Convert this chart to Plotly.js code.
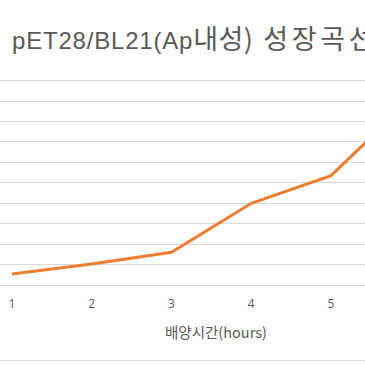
<!DOCTYPE html>
<html>
<head>
<meta charset="utf-8">
<script src="https://cdn.plot.ly/plotly-3.0.1.min.js"></script>
<style>html,body{margin:0;padding:0;background:#fff;}#chart{width:365px;height:365px;}</style>
</head>
<body>
<div id="chart"></div>
<script>
const hours = [1, 2, 3, 4, 5, 6];
const growth = [0.054, 0.103, 0.160, 0.400, 0.535, 0.910];
const titleLatin = 'pET28/BL21(Ap';
const titleKoreanA = '내성)';
const titleKoreanB = ' 성장곡선';
const xTitle = '배양시간(hours)';
const yTicks = [0, 0.1, 0.2, 0.3, 0.4, 0.5, 0.6, 0.7, 0.8, 0.9, 1.0];

const grey = '#595959';
const gridColor = '#d9d9d9';
const fontFam = 'Noto Sans CJK KR, Open Sans, sans-serif';

const data = [{
  x: hours,
  y: growth,
  type: 'scatter',
  mode: 'lines',
  line: {color: '#ED7D31', width: 3},
  hoverinfo: 'none'
}];

const titleText =
  '<span style="letter-spacing:0.8px">' + titleLatin + '</span>' +
  '<span style="font-family:Noto Sans CJK KR;font-size:27px;letter-spacing:0.5px">' + titleKoreanA + '</span>' +
  '<span style="font-family:Noto Sans CJK KR;font-size:27px;letter-spacing:3.7px">' + titleKoreanB + '</span>';

const topGrid = Math.max(...yTicks);

const layout = {
  width: 365,
  height: 365,
  margin: {l: 0, r: 0, t: 77, b: 80, pad: 0},
  paper_bgcolor: '#ffffff',
  plot_bgcolor: '#ffffff',
  showlegend: false,
  title: {
    text: titleText,
    x: 12 / 365,
    xanchor: 'left',
    xref: 'container',
    y: 1 - 41 / 365,
    yanchor: 'middle',
    yref: 'container',
    font: {family: 'Liberation Sans, Noto Sans CJK KR, sans-serif', size: 24, color: grey}
  },
  xaxis: {
    range: [0.8495, 5.426],
    tickvals: hours,
    ticktext: hours.map(String),
    showgrid: false,
    zeroline: false,
    showline: false,
    ticks: '',
    ticklabelstandoff: 10,
    tickfont: {family: 'Open Sans, sans-serif', size: 12, color: grey},
    fixedrange: true
  },
  yaxis: {
    range: [0, 208 / 204.3],
    tickmode: 'array',
    tickvals: yTicks,
    showgrid: true,
    gridcolor: gridColor,
    gridwidth: 1,
    zeroline: true,
    zerolinecolor: gridColor,
    zerolinewidth: 1,
    showticklabels: false,
    ticks: '',
    fixedrange: true
  },
  annotations: [{
    text: xTitle,
    xref: 'x',
    x: 3.56,
    yref: 'paper',
    y: -46 / 208,
    xanchor: 'center',
    yanchor: 'middle',
    showarrow: false,
    font: {family: fontFam, size: 14.5, color: grey}
  }],
  shapes: [
    {type: 'line', layer: 'below', xref: 'paper', yref: 'y', x0: 0, x1: 1, y0: topGrid, y1: topGrid, line: {color: gridColor, width: 1}},
    {type: 'line', xref: 'paper', yref: 'paper', x0: -0.1, x1: 1.1, y0: (288 - 1) / 208, y1: (288 - 1) / 208, line: {color: gridColor, width: 1.2}},
    {type: 'line', xref: 'paper', yref: 'paper', x0: -0.1, x1: 1.1, y0: (288 - 363.5) / 208, y1: (288 - 363.5) / 208, line: {color: gridColor, width: 1.2}}
  ]
};

Plotly.newPlot('chart', data, layout, {staticPlot: true, displayModeBar: false});
</script>
</body>
</html>
